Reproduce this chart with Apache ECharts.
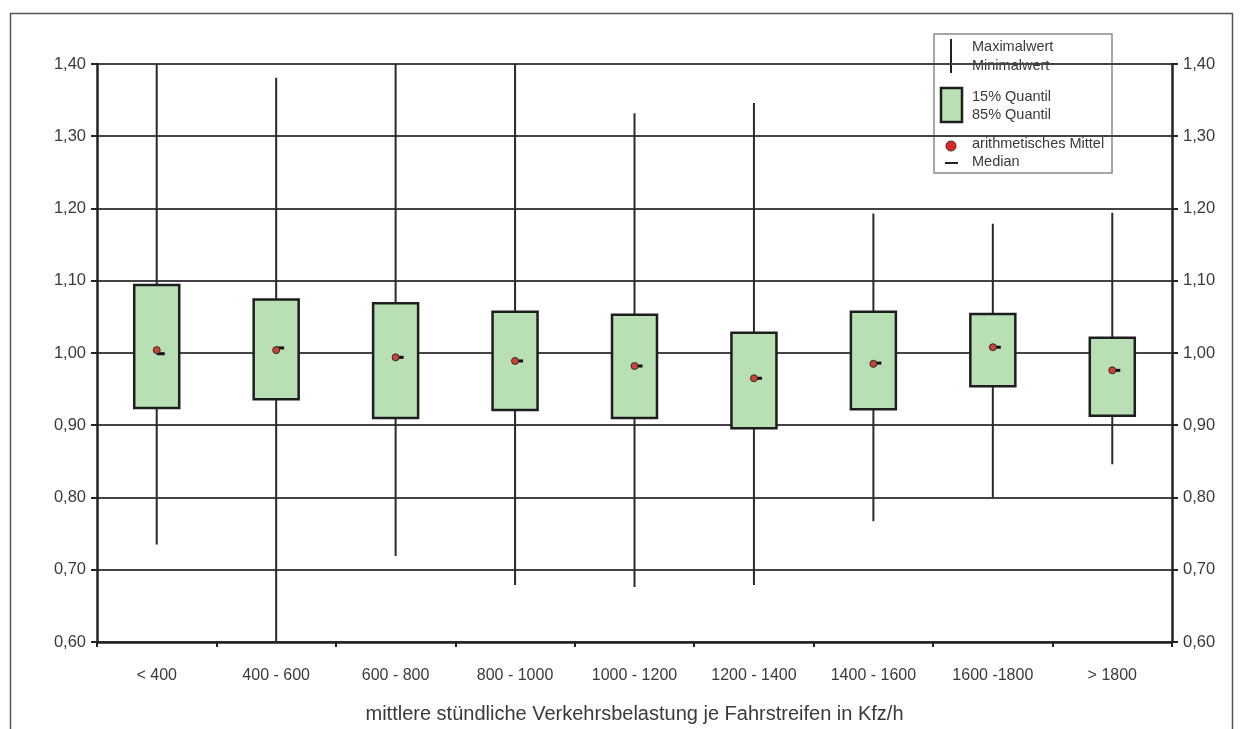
<!DOCTYPE html>
<html><head><meta charset="utf-8">
<script src="https://cdn.jsdelivr.net/npm/echarts@6/dist/echarts.min.js"></script>
<style>html,body{margin:0;padding:0;background:#fff}#c{width:1246px;height:729px}</style>
</head><body><div id="c"></div>
<script>
const categories = ['< 400', '400 - 600', '600 - 800', '800 - 1000', '1000 - 1200', '1200 - 1400', '1400 - 1600', '1600 -1800', '> 1800'];
const maxValues = [1.40, 1.381, 1.40, 1.40, 1.332, 1.346, 1.193, 1.179, 1.194];
const minValues = [0.735, 0.60, 0.719, 0.679, 0.676, 0.679, 0.767, 0.800, 0.846];
const quantil15 = [0.924, 0.936, 0.910, 0.921, 0.910, 0.896, 0.922, 0.954, 0.913];
const quantil85 = [1.094, 1.074, 1.069, 1.057, 1.053, 1.028, 1.057, 1.054, 1.021];
const means = [1.004, 1.004, 0.994, 0.989, 0.982, 0.965, 0.985, 1.008, 0.976];
const medians = [0.999, 1.007, 0.994, 0.989, 0.982, 0.965, 0.986, 1.008, 0.976];
const yMin = 0.6, yMax = 1.4, yStep = 0.1;
const legendLabels = ['Maximalwert', 'Minimalwert', '15% Quantil', '85% Quantil', 'arithmetisches Mittel', 'Median'];
const xTitle = 'mittlere stündliche Verkehrsbelastung je Fahrstreifen in Kfz/h';

const FONT = '"Liberation Sans", Arial, sans-serif';
const TXT = '#3a3a3a';
const fmt = v => v.toFixed(2).replace('.', ',');

const chart = echarts.init(document.getElementById('c'), null, {renderer: 'canvas'});

const boxData = categories.map((c, i) => [i, minValues[i], quantil15[i], quantil85[i], maxValues[i], medians[i]]);
const meanData = categories.map((c, i) => [i, means[i]]);

const BOX_W = 45;
function renderBox(params, api) {
  const x = api.value(0);
  const pMin = api.coord([x, api.value(1)]);
  const pLo = api.coord([x, api.value(2)]);
  const pHi = api.coord([x, api.value(3)]);
  const pMax = api.coord([x, api.value(4)]);
  const pMed = api.coord([x, api.value(5)]);
  return {
    type: 'group',
    children: [
      {type: 'line', shape: {x1: pMin[0], y1: pMin[1], x2: pMax[0], y2: pMax[1]}, style: {stroke: '#2a2a2a', lineWidth: 2}},
      {type: 'rect', shape: {x: pHi[0] - BOX_W / 2, y: pHi[1], width: BOX_W, height: pLo[1] - pHi[1]},
        style: {fill: '#b9dfb5', stroke: '#1e1e1e', lineWidth: 2.5}},
      {type: 'line', shape: {x1: pMed[0], y1: pMed[1], x2: pMed[0] + 8, y2: pMed[1]}, style: {stroke: '#111', lineWidth: 3}}
    ]
  };
}

const LX = 934, LY = 34;
const legendText = (t, x, y) => ({type: 'text', x: x, y: y,
  style: {text: t, font: '14.5px ' + FONT, fill: TXT, textVerticalAlign: 'middle'}});

const option = {
  backgroundColor: '#fff',
  animation: false,
  grid: {left: 97, right: 74, top: 64, bottom: 87, containLabel: false},
  xAxis: {
    type: 'category', data: categories, boundaryGap: true,
    axisLine: {show: true, lineStyle: {color: '#222', width: 2.5}},
    axisTick: {show: true, alignWithLabel: false, length: 5, lineStyle: {color: '#222', width: 2}},
    axisLabel: {color: TXT, fontSize: 16, fontFamily: FONT, margin: 26, interval: 0},
    splitLine: {show: false},
    name: xTitle, nameLocation: 'middle', nameGap: 62,
    nameTextStyle: {color: TXT, fontSize: 20, fontFamily: FONT}
  },
  yAxis: [{
    type: 'value', min: yMin, max: yMax, interval: yStep, position: 'left',
    axisLine: {show: true, lineStyle: {color: '#222', width: 2.5}},
    axisTick: {show: true, length: 6, lineStyle: {color: '#222', width: 2}},
    axisLabel: {color: TXT, fontSize: 16.5, fontFamily: FONT, margin: 11, formatter: fmt},
    splitLine: {show: true, lineStyle: {color: '#444', width: 2}}
  }, {
    type: 'value', min: yMin, max: yMax, interval: yStep, position: 'right',
    axisLine: {show: true, lineStyle: {color: '#222', width: 2.5}},
    axisTick: {show: true, length: 6, lineStyle: {color: '#222', width: 2}},
    axisLabel: {color: TXT, fontSize: 16.5, fontFamily: FONT, margin: 11, formatter: fmt},
    splitLine: {show: false}
  }],
  series: [{
    type: 'custom', name: 'box', data: boxData, renderItem: renderBox,
    encode: {x: 0, y: [1, 2, 3, 4, 5]}, z: 3, clip: false
  }, {
    type: 'scatter', name: 'mean', data: meanData, symbol: 'circle', symbolSize: 7,
    itemStyle: {color: '#c4463a', borderColor: '#3e2620', borderWidth: 1, opacity: 1}, z: 5
  }],
  graphic: [
    {type: 'rect', z: 0, silent: true, shape: {x: 10.5, y: 13.5, width: 1222, height: 740},
      style: {fill: 'none', stroke: '#555', lineWidth: 1.5}},
    {type: 'group', z: 100, children: [
      {type: 'rect', shape: {x: LX, y: LY, width: 178, height: 139}, style: {fill: '#fff', stroke: '#8a8a8a', lineWidth: 1.5}},
      {type: 'line', shape: {x1: 951, y1: 39, x2: 951, y2: 73}, style: {stroke: '#222', lineWidth: 2}},
      legendText(legendLabels[0], 972, 47),
      legendText(legendLabels[1], 972, 66),
      {type: 'rect', shape: {x: 941, y: 88, width: 21, height: 34}, style: {fill: '#b9dfb5', stroke: '#1e1e1e', lineWidth: 2.5}},
      legendText(legendLabels[2], 972, 97),
      legendText(legendLabels[3], 972, 115),
      {type: 'circle', shape: {cx: 951, cy: 146, r: 5}, style: {fill: '#e0262a', stroke: '#4a2a22', lineWidth: 1}},
      legendText(legendLabels[4], 972, 144),
      {type: 'line', shape: {x1: 945, y1: 163, x2: 958, y2: 163}, style: {stroke: '#222', lineWidth: 2}},
      legendText(legendLabels[5], 972, 162)
    ]}
  ]
};
chart.setOption(option);
</script>
</body></html>
